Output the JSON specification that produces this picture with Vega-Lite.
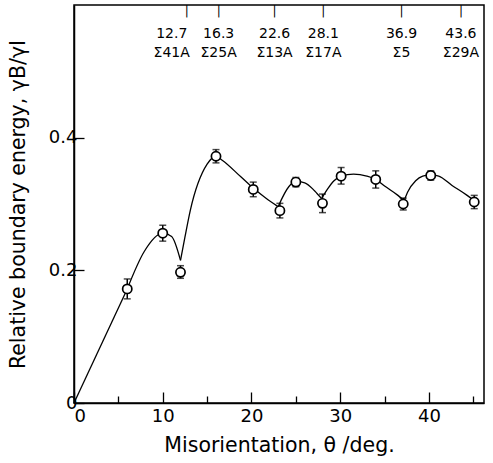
{
  "$schema": "https://vega.github.io/schema/vega-lite/v6.json",
  "width": 410,
  "height": 398,
  "padding": {"left": 8, "top": 5, "right": 2, "bottom": 5},
  "background": "white",
  "config": {
    "view": {"stroke": "black", "strokeWidth": 1.5},
    "font": "DejaVu Sans",
    "axis": {
      "grid": false,
      "domainColor": "black",
      "domainWidth": 1.5,
      "tickColor": "black",
      "tickWidth": 1.3,
      "labelColor": "black",
      "titleColor": "black",
      "labelFont": "DejaVu Sans",
      "titleFont": "DejaVu Sans",
      "labelFontSize": 18,
      "titleFontSize": 20.5,
      "titleFontWeight": "normal"
    }
  },
  "datasets": {
    "pts": [
      {"theta": 6, "energy": 0.172, "lo": 0.157, "hi": 0.187},
      {"theta": 10, "energy": 0.256, "lo": 0.244, "hi": 0.268},
      {"theta": 12, "energy": 0.197, "lo": 0.188, "hi": 0.207},
      {"theta": 16, "energy": 0.372, "lo": 0.362, "hi": 0.382},
      {"theta": 20.2, "energy": 0.322, "lo": 0.311, "hi": 0.333},
      {"theta": 23.2, "energy": 0.29, "lo": 0.279, "hi": 0.301},
      {"theta": 25, "energy": 0.333, "lo": 0.326, "hi": 0.34},
      {"theta": 28, "energy": 0.301, "lo": 0.287, "hi": 0.315},
      {"theta": 30.1, "energy": 0.342, "lo": 0.33, "hi": 0.355},
      {"theta": 34, "energy": 0.337, "lo": 0.324, "hi": 0.35},
      {"theta": 37.1, "energy": 0.3, "lo": 0.291, "hi": 0.309},
      {"theta": 40.2, "energy": 0.343, "lo": 0.336, "hi": 0.35},
      {"theta": 45.1, "energy": 0.303, "lo": 0.293, "hi": 0.313}
    ],
    "curve": [
      {"seg": "a", "theta": 0, "energy": 0},
      {"seg": "a", "theta": 6, "energy": 0.172},
      {"seg": "b", "theta": 6, "energy": 0.172},
      {"seg": "b", "theta": 7.9, "energy": 0.228},
      {"seg": "b", "theta": 10, "energy": 0.256},
      {"seg": "b", "theta": 11, "energy": 0.251},
      {"seg": "b", "theta": 12, "energy": 0.215},
      {"seg": "c", "theta": 12, "energy": 0.215},
      {"seg": "c", "theta": 12.5, "energy": 0.25},
      {"seg": "c", "theta": 13.1, "energy": 0.29},
      {"seg": "c", "theta": 15, "energy": 0.36},
      {"seg": "c", "theta": 16, "energy": 0.372},
      {"seg": "c", "theta": 16.7, "energy": 0.366},
      {"seg": "c", "theta": 18.8, "energy": 0.341},
      {"seg": "c", "theta": 20.2, "energy": 0.324},
      {"seg": "c", "theta": 21.6, "energy": 0.309},
      {"seg": "c", "theta": 23, "energy": 0.296},
      {"seg": "d", "theta": 23, "energy": 0.296},
      {"seg": "d", "theta": 24.2, "energy": 0.326},
      {"seg": "d", "theta": 25, "energy": 0.334},
      {"seg": "d", "theta": 26, "energy": 0.332},
      {"seg": "d", "theta": 27.1, "energy": 0.32},
      {"seg": "d", "theta": 27.9, "energy": 0.308},
      {"seg": "e", "theta": 27.9, "energy": 0.308},
      {"seg": "e", "theta": 28.6, "energy": 0.323},
      {"seg": "e", "theta": 29.3, "energy": 0.335},
      {"seg": "e", "theta": 30.1, "energy": 0.342},
      {"seg": "e", "theta": 31.5, "energy": 0.345},
      {"seg": "e", "theta": 33, "energy": 0.342},
      {"seg": "e", "theta": 34, "energy": 0.337},
      {"seg": "e", "theta": 35, "energy": 0.327},
      {"seg": "e", "theta": 36.5, "energy": 0.313},
      {"seg": "e", "theta": 37.2, "energy": 0.305},
      {"seg": "f", "theta": 37.2, "energy": 0.305},
      {"seg": "f", "theta": 37.6, "energy": 0.318},
      {"seg": "f", "theta": 38.5, "energy": 0.335},
      {"seg": "f", "theta": 39.3, "energy": 0.342},
      {"seg": "f", "theta": 40.2, "energy": 0.344},
      {"seg": "f", "theta": 41.1, "energy": 0.342},
      {"seg": "f", "theta": 42.6, "energy": 0.328},
      {"seg": "f", "theta": 44.3, "energy": 0.313},
      {"seg": "f", "theta": 45.1, "energy": 0.305}
    ],
    "csl": [
      {"theta": 12.7, "angle": "12.7", "sigma": "Σ41A", "shift": "left"},
      {"theta": 16.3, "angle": "16.3", "sigma": "Σ25A", "shift": "none"},
      {"theta": 22.6, "angle": "22.6", "sigma": "Σ13A", "shift": "none"},
      {"theta": 28.1, "angle": "28.1", "sigma": "Σ17A", "shift": "none"},
      {"theta": 36.9, "angle": "36.9", "sigma": "Σ5", "shift": "none"},
      {"theta": 43.6, "angle": "43.6", "sigma": "Σ29A", "shift": "none"}
    ]
  },
  "layer": [
    {
      "data": {"name": "curve"},
      "mark": {"type": "line", "interpolate": "monotone", "color": "black", "strokeWidth": 1.3},
      "encoding": {
        "x": {
          "field": "theta",
          "type": "quantitative",
          "title": "Misorientation,  θ /deg.",
          "scale": {"domain": [0, 46.2], "nice": false, "zero": false},
          "axis": {
            "values": [0, 5, 10, 15, 20, 25, 30, 35, 40, 45],
            "labelExpr": "datum.value % 10 === 0 ? datum.label : ''",
            "tickSize": {"condition": {"test": "datum.value % 10 === 0", "value": -11}, "value": -7},
            "labelPadding": 15,
            "title": "Misorientation,  θ /deg.",
            "titlePadding": 10
          }
        },
        "y": {
          "field": "energy",
          "type": "quantitative",
          "title": "Relative boundary energy,  γB/γI",
          "scale": {"domain": [0, 0.6], "nice": false},
          "axis": {
            "values": [0, 0.2, 0.4],
            "labelExpr": "datum.value === 0 ? '0' : format(datum.value, '.1f')",
            "tickSize": -10,
            "labelPadding": 7,
            "title": "Relative boundary energy,  γB/γI",
            "titlePadding": 20
          }
        },
        "detail": {"field": "seg"}
      }
    },
    {
      "data": {"name": "pts"},
      "mark": {"type": "errorbar", "ticks": {"size": 7, "thickness": 1.5, "color": "black"}, "color": "black", "thickness": 1.5},
      "encoding": {
        "x": {"field": "theta", "type": "quantitative", "title": "Misorientation,  θ /deg."},
        "y": {"field": "lo", "type": "quantitative", "title": "Relative boundary energy,  γB/γI"},
        "y2": {"field": "hi"}
      }
    },
    {
      "data": {"name": "pts"},
      "mark": {"type": "point", "shape": "circle", "size": 85, "filled": false, "fill": "white", "fillOpacity": 1, "stroke": "black", "strokeWidth": 1.7, "opacity": 1},
      "encoding": {
        "x": {"field": "theta", "type": "quantitative", "title": "Misorientation,  θ /deg."},
        "y": {"field": "energy", "type": "quantitative", "title": "Relative boundary energy,  γB/γI"}
      }
    },
    {
      "data": {"name": "csl"},
      "transform": [{"filter": "datum.shift === 'none' || datum.shift === 'left'"}],
      "mark": {"type": "text", "text": "|", "fontSize": 12, "baseline": "middle", "align": "center", "color": "black"},
      "encoding": {
        "x": {"field": "theta", "type": "quantitative", "title": "Misorientation,  θ /deg."},
        "y": {"datum": 0.5905, "type": "quantitative"}
      }
    },
    {
      "data": {"name": "csl"},
      "transform": [{"filter": "datum.shift === 'none'"}],
      "mark": {"type": "text", "fontSize": 14, "baseline": "middle", "align": "center", "color": "black"},
      "encoding": {
        "x": {"field": "theta", "type": "quantitative", "title": "Misorientation,  θ /deg."},
        "y": {"datum": 0.556, "type": "quantitative"},
        "text": {"field": "angle"}
      }
    },
    {
      "data": {"name": "csl"},
      "transform": [{"filter": "datum.shift === 'none'"}],
      "mark": {"type": "text", "fontSize": 14, "baseline": "middle", "align": "center", "color": "black"},
      "encoding": {
        "x": {"field": "theta", "type": "quantitative", "title": "Misorientation,  θ /deg."},
        "y": {"datum": 0.527, "type": "quantitative"},
        "text": {"field": "sigma"}
      }
    },
    {
      "data": {"name": "csl"},
      "transform": [{"filter": "datum.shift === 'left'"}],
      "mark": {"type": "text", "fontSize": 14, "baseline": "middle", "align": "center", "dx": -15, "color": "black"},
      "encoding": {
        "x": {"field": "theta", "type": "quantitative", "title": "Misorientation,  θ /deg."},
        "y": {"datum": 0.556, "type": "quantitative"},
        "text": {"field": "angle"}
      }
    },
    {
      "data": {"name": "csl"},
      "transform": [{"filter": "datum.shift === 'left'"}],
      "mark": {"type": "text", "fontSize": 14, "baseline": "middle", "align": "center", "dx": -15, "color": "black"},
      "encoding": {
        "x": {"field": "theta", "type": "quantitative", "title": "Misorientation,  θ /deg."},
        "y": {"datum": 0.527, "type": "quantitative"},
        "text": {"field": "sigma"}
      }
    }
  ]
}
